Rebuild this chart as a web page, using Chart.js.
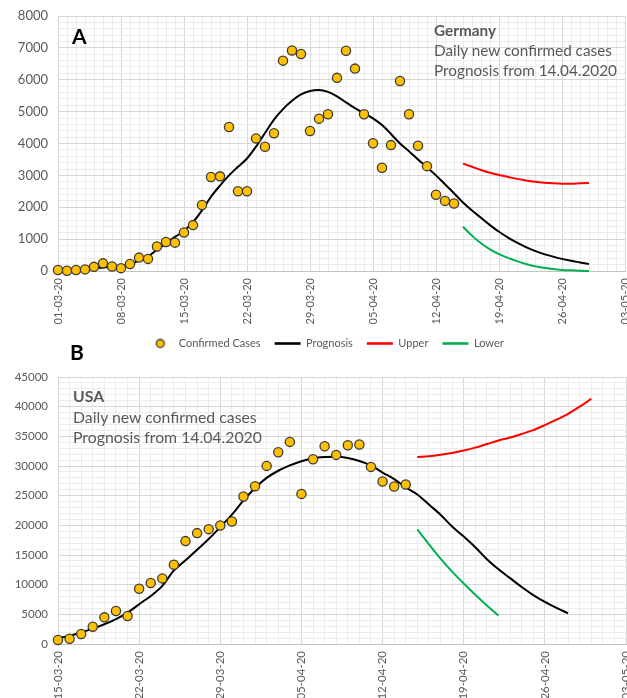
<!DOCTYPE html>
<html><head><meta charset="utf-8">
<script src="https://cdn.jsdelivr.net/npm/chart.js"></script>
<style>
html,body{margin:0;padding:0;background:#fff;overflow:hidden;width:627px;height:698px;position:relative;}
.wrap{position:absolute;left:0;width:627px;}
#wA{top:0;height:359px;}
#wB{top:360px;height:340px;}
.lbl{position:absolute;font-family:Lato,sans-serif;color:#000;font-weight:bold;font-size:21px;line-height:21px;}
.note{position:absolute;font-family:Lato,sans-serif;color:#595959;white-space:nowrap;}
.note b{font-weight:bold;}
</style></head>
<body>
<div class="wrap" id="wA"><canvas id="cA" width="627" height="359"></canvas></div>
<div class="wrap" id="wB"><canvas id="cB" width="627" height="340"></canvas></div>
<div class="lbl" style="left:72px;top:25px;">A</div>
<div class="lbl" style="left:70px;top:341px;">B</div>
<div class="note" style="left:434px;top:20px;font-size:15.3px;line-height:20px;"><b>Germany</b><br>Daily new confirmed cases<br>Prognosis from 14.04.2020</div>
<div class="note" style="left:73px;top:386px;font-size:15.8px;line-height:20.5px;"><b>USA</b><br>Daily new confirmed cases<br>Prognosis from 14.04.2020</div>
<script>
// ---------- DATA ----------
const germanyTickLabels = ['01-03-20','08-03-20','15-03-20','22-03-20','29-03-20','05-04-20','12-04-20','19-04-20','26-04-20','03-05-20'];
const usaTickLabels = ['15-03-20','22-03-20','29-03-20','05-04-20','12-04-20','19-04-20','26-04-20','03-05-20'];
const seriesNames = ['Confirmed Cases','Prognosis','Upper','Lower'];

// Germany: day 0 = 01-03-20
const germanyCasesStart = 0;
const germanyCases = [30,10,30,50,130,240,140,90,220,420,380,770,910,890,1210,1440,2070,2950,2970,4520,2500,2500,4160,3900,4320,6600,6920,6810,4390,4780,4920,6060,6910,6350,4920,4010,3240,3950,5960,4920,3930,3290,2390,2200,2120];
const germanyPrognosisStart = 0;
const germanyPrognosis = [20,30,40,60,80,110,130,150,210,330,460,660,870,1070,1260,1530,1900,2330,2680,3000,3270,3530,3900,4330,4750,5080,5340,5540,5650,5680,5620,5480,5290,5110,4950,4790,4580,4300,4000,3760,3500,3250,3000,2720,2440,2150,1900,1670,1440,1230,1050,890,750,630,530,450,380,320,270,220];
const germanyBandStart = 45;
const germanyUpper = [3370,3270,3170,3080,3010,2950,2890,2840,2800,2770,2750,2740,2740,2750,2760];
const germanyLower = [1390,1110,870,680,530,410,310,220,150,100,60,35,20,8,0];

// USA: day 0 = 15-03-20
const usaCasesStart = 0;
const usaCases = [670,890,1680,2920,4490,5560,4710,9310,10270,11060,13360,17340,18690,19360,19980,20650,24860,26600,30020,32320,34060,25300,31150,33330,31870,33500,33620,29850,27390,26550,26890];
const usaPrognosisStart = 0;
const usaPrognosis = [960,1400,1950,2600,3330,4200,5300,6700,8100,9800,12400,14100,15900,17700,19700,21800,24200,26300,28000,29200,30100,30800,31300,31500,31550,31350,30850,30100,28900,27800,26400,25200,23500,21800,19800,18100,16300,14300,12600,11100,9600,8250,7100,6100,5170];
const usaBandStart = 31;
const usaUpper = [31500,31650,31900,32200,32600,33100,33700,34300,34800,35400,36050,36900,37800,38800,40000,41300];
const usaLower = [19300,16800,14400,12200,10200,8300,6500,4800];

// ---------- HELPERS ----------
function toPoints(values, start){ return values.map((v,i)=>({x:start+i, y:v})); }

Chart.defaults.font.family = 'Lato, sans-serif';
Chart.defaults.color = '#595959';

const GOLD = '#FFC000', EDGE = '#3a3a3a';
const MAJOR = '#d6d6d6', MINOR = '#ececec';

// legend marker for the scatter series
const dot = document.createElement('canvas');
dot.width = 12; dot.height = 12;
(function(){ const c = dot.getContext('2d'); c.beginPath(); c.arc(6,6,4,0,Math.PI*2); c.fillStyle=GOLD; c.fill(); c.lineWidth=1.3; c.strokeStyle=EDGE; c.stroke(); })();

const legendShift = {
  id:'legendShift',
  afterLayout(chart){
    if (chart.legend && chart.options.plugins.legend.display) { chart.legend.left += 13; chart.legend.right += 13; }
  }
};

function makeDatasets(cases, cs, prog, ps, upper, lower, bs){
  return [
    {label: seriesNames[0], data: toPoints(cases, cs), showLine:false, pointRadius:4.6, pointBackgroundColor:GOLD, pointBorderColor:EDGE, pointBorderWidth:1.3, borderColor:EDGE, backgroundColor:GOLD, clip:false},
    {label: seriesNames[1], data: toPoints(prog, ps), borderColor:'#000000', backgroundColor:'#000000', borderWidth:2, pointRadius:0, cubicInterpolationMode:'monotone', clip:false},
    {label: seriesNames[2], data: toPoints(upper, bs), borderColor:'#FF0000', backgroundColor:'#FF0000', borderWidth:2, pointRadius:0, cubicInterpolationMode:'monotone', clip:false},
    {label: seriesNames[3], data: toPoints(lower, bs), borderColor:'#00B050', backgroundColor:'#00B050', borderWidth:2, pointRadius:0, cubicInterpolationMode:'monotone', clip:false}
  ];
}

function makeOptions(o){
  return {
    responsive:false, animation:false, events:[],
    layout:{autoPadding:false, padding:{top:o.padTop, left:0, right:o.padRight, bottom:0}},
    plugins:{
      tooltip:{enabled:false},
      legend: o.legend ? {
        display:true, position:'bottom',
        labels:{
          usePointStyle:true, pointStyleWidth:26, padding:14,
          font:{size:11}, color:'#595959',
          generateLabels(chart){
            const items = Chart.defaults.plugins.legend.labels.generateLabels(chart);
            items.forEach((it,i)=>{
              if(i===0){ it.pointStyle = dot; }
              else { it.pointStyle = 'line'; it.lineWidth = 2.6; }
            });
            return items;
          }
        }
      } : {display:false}
    },
    scales:{
      x:{
        type:'linear', min:0, max:o.xMax,
        border:{color:'#c4c4c4'},
        grid:{drawTicks:false, color:(c)=> (c.tick && c.tick.value % 7 === 0) ? MAJOR : MINOR},
        ticks:{stepSize:1, autoSkip:false, minRotation:90, maxRotation:90, padding:7, font:{size:o.xFont}, color:'#595959',
          callback:(v)=> v % 7 === 0 ? o.xLabels[v/7] : ''},
        afterFit:(s)=>{ s.height = o.xH; s.paddingLeft = 0; s.paddingRight = 0; }
      },
      y:{
        type:'linear', min:0, max:o.yMax,
        border:{color:MAJOR},
        grid:{drawTicks:false, color:(c)=> (c.tick && c.tick.value % o.yMajor === 0) ? MAJOR : MINOR},
        ticks:{stepSize:o.yMinor, autoSkip:false, padding:10, font:{size:o.yFont}, color:'#595959',
          callback:(v)=> v % o.yMajor === 0 ? String(v) : ''},
        afterFit:(s)=>{ s.width = 58; s.paddingTop = 0; s.paddingBottom = 0; }
      }
    }
  };
}

new Chart(document.getElementById('cA'), {
  type:'line',
  data:{datasets: makeDatasets(germanyCases, germanyCasesStart, germanyPrognosis, germanyPrognosisStart, germanyUpper, germanyLower, germanyBandStart)},
  options: makeOptions({padTop:16, padRight:2, legend:true, xMax:63, xLabels:germanyTickLabels, xH:53, xFont:11, yMax:8000, yMajor:1000, yMinor:200, yFont:13}),
  plugins:[legendShift]
});

new Chart(document.getElementById('cB'), {
  type:'line',
  data:{datasets: makeDatasets(usaCases, usaCasesStart, usaPrognosis, usaPrognosisStart, usaUpper, usaLower, usaBandStart)},
  options: makeOptions({padTop:17, padRight:1, legend:false, xMax:49, xLabels:usaTickLabels, xH:56, xFont:11.5, yMax:45000, yMajor:5000, yMinor:1000, yFont:11.5})
});
</script>
</body></html>
